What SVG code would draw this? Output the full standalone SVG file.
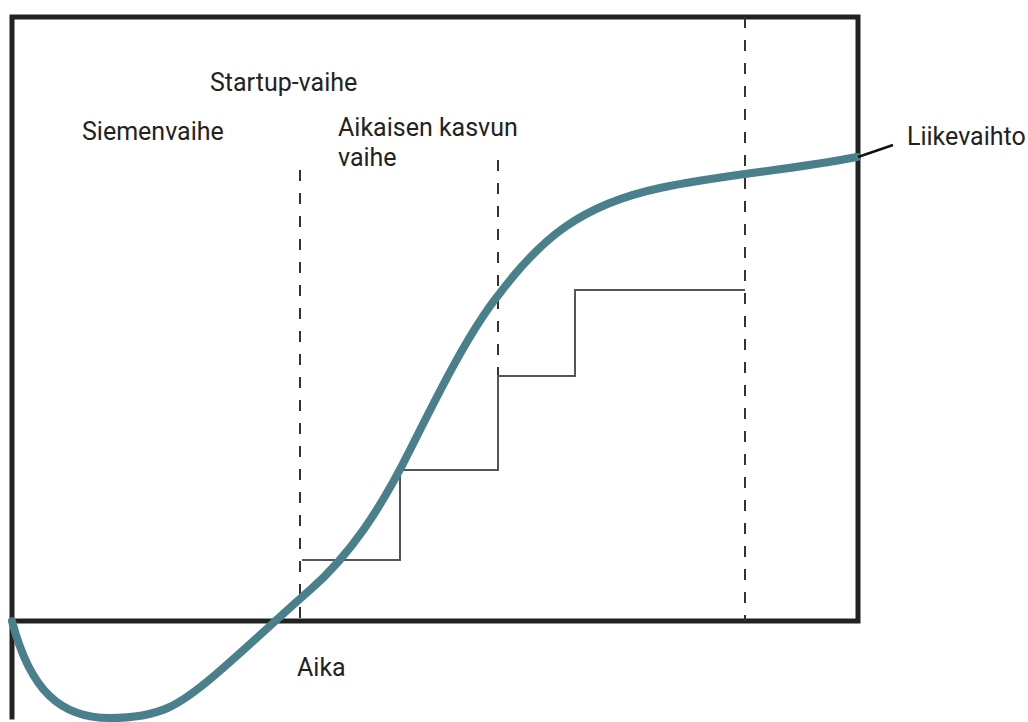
<svg xmlns="http://www.w3.org/2000/svg" width="1028" height="722" viewBox="0 0 1028 722">
<style>
.frame{fill:none;stroke:#222;stroke-width:5;stroke-linecap:square}
.dash{fill:none;stroke:#333;stroke-width:2;stroke-dasharray:11 12}
.step{fill:none;stroke:#555;stroke-width:2}
.curve{fill:none;stroke:#4a7f8c;stroke-width:8;stroke-linecap:round}
.lead{fill:none;stroke:#111;stroke-width:2.5}
text{font-family:Roboto,"Liberation Sans",sans-serif;font-size:25px;fill:#222}
</style>
<rect width="1028" height="722" fill="#fff"/>
<g id="frame">
<path class="frame" d="M12,717 V17 H858 V621 H12"/>
</g>
<g id="phases">
<line class="dash" x1="300" y1="170" x2="300" y2="621"/>
<line class="dash" x1="498" y1="160" x2="498" y2="378"/>
<line class="dash" x1="745" y1="17" x2="745" y2="621"/>
</g>
<g id="steps">
<polyline class="step" points="302,560 400,560 400,470 498,470 498,376 575,376 575,290 745,290"/>
</g>
<g id="connectors">
<path class="curve" d="M12,621 C30,690 60,718 110,718 C160,718 180,705 215,675 C250,645 280,616 310,590 C350,555 380,510 410,450 C440,390 470,330 500,293 C540,240 580,205 660,188 C720,175 790,170 857,157"/>
<line class="lead" x1="858" y1="157" x2="893" y2="145"/>
</g>
<g id="labels">
<text x="210" y="91">Startup-vaihe</text>
<text x="82" y="140">Siemenvaihe</text>
<text x="338" y="136">Aikaisen kasvun</text>
<text x="338" y="166">vaihe</text>
<text x="907" y="145">Liikevaihto</text>
<text x="297" y="676">Aika</text>
</g>
</svg>
